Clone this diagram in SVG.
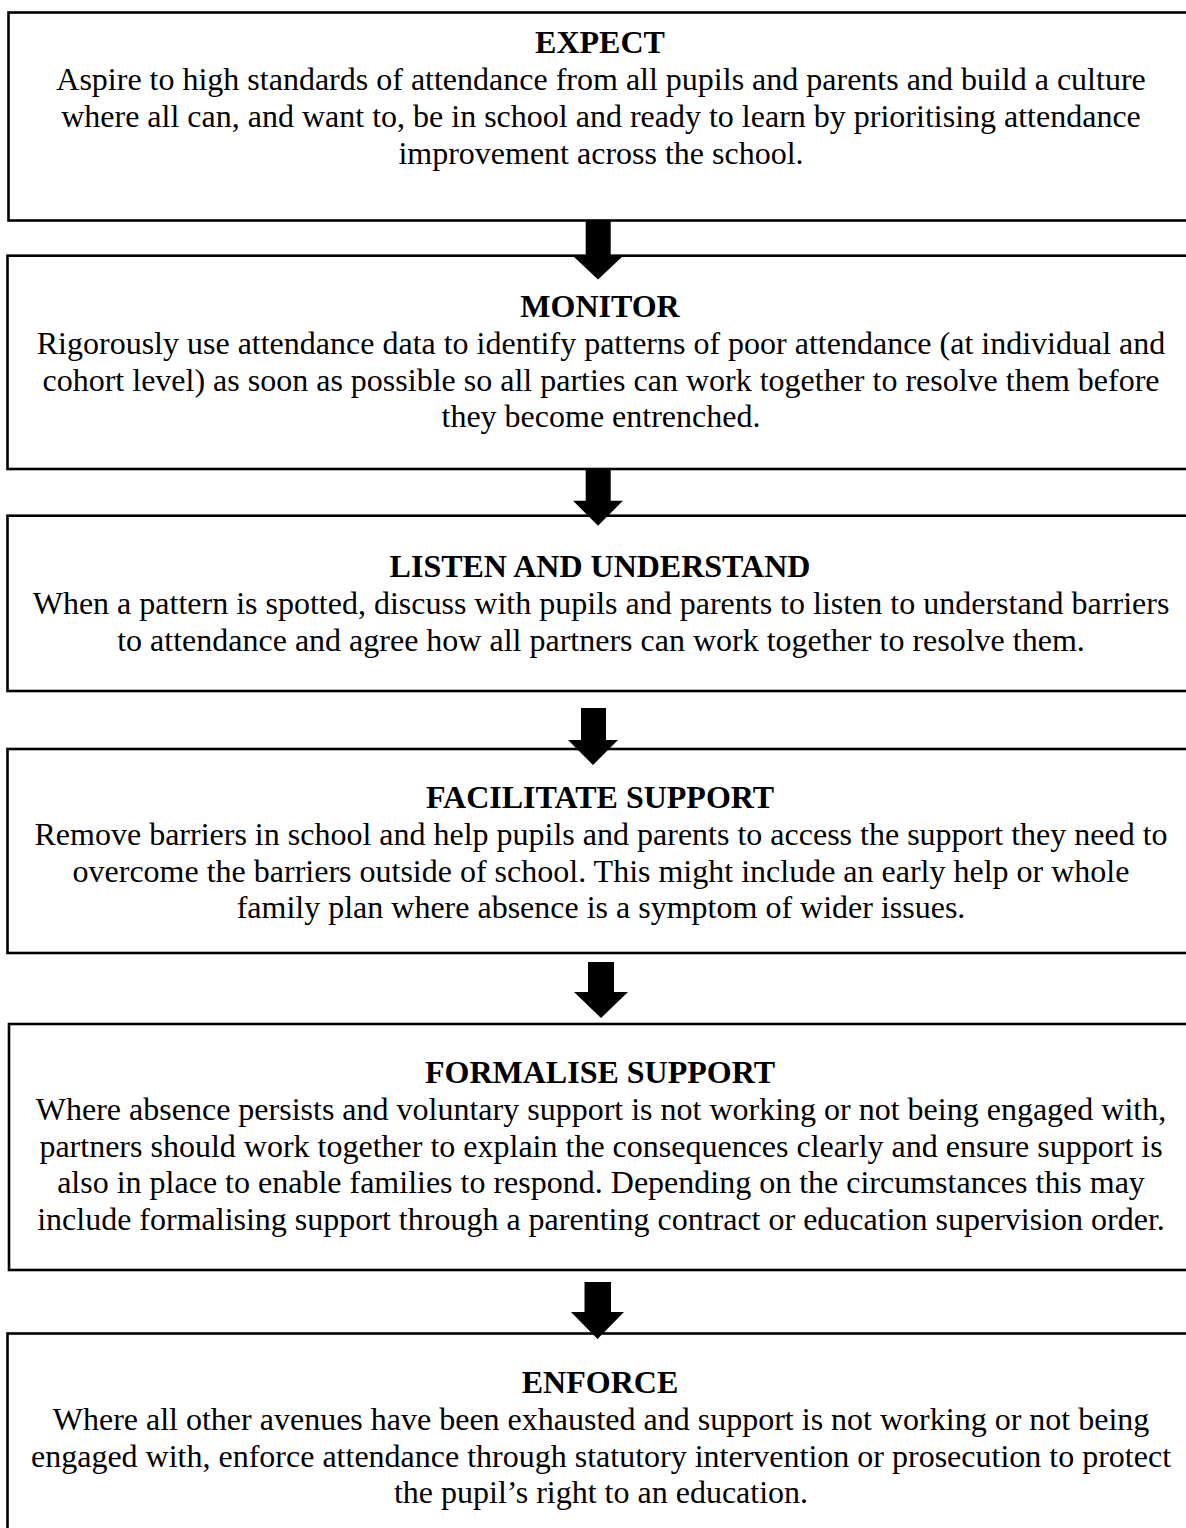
<svg xmlns="http://www.w3.org/2000/svg" width="1186" height="1528" viewBox="0 0 1186 1528">
<style>
.box{fill:#fff;stroke:#000;stroke-width:2.6}
.h{font-family:"Liberation Serif","Times New Roman",serif;font-size:32px;font-weight:bold;text-anchor:middle;fill:#000}
.t{font-family:"Liberation Serif","Times New Roman",serif;font-size:32px;text-anchor:middle;fill:#000}
.arr{fill:#000}
</style>
<rect width="1186" height="1528" fill="#fff"/>
<g id="expect">
<rect class="box" x="8.5" y="12.5" width="1185" height="208"/>
<text class="h" x="600" y="53">EXPECT</text>
<text class="t" x="601" y="90">Aspire to high standards of attendance from all pupils and parents and build a culture</text>
<text class="t" x="601" y="126.8">where all can, and want to, be in school and ready to learn by prioritising attendance</text>
<text class="t" x="601" y="163.6">improvement across the school.</text>
</g>
<g id="monitor">
<rect class="box" x="7.5" y="255.7" width="1186" height="213.3"/>
<text class="h" x="600" y="317">MONITOR</text>
<text class="t" x="601" y="353.8">Rigorously use attendance data to identify patterns of poor attendance (at individual and</text>
<text class="t" x="601" y="390.6">cohort level) as soon as possible so all parties can work together to resolve them before</text>
<text class="t" x="601" y="427.4">they become entrenched.</text>
</g>
<g id="listen">
<rect class="box" x="7.5" y="515.7" width="1186" height="175.3"/>
<text class="h" x="600" y="577">LISTEN AND UNDERSTAND</text>
<text class="t" x="601" y="613.8">When a pattern is spotted, discuss with pupils and parents to listen to understand barriers</text>
<text class="t" x="601" y="650.6">to attendance and agree how all partners can work together to resolve them.</text>
</g>
<g id="facilitate">
<rect class="box" x="7.5" y="749" width="1186" height="204"/>
<text class="h" x="600" y="808">FACILITATE SUPPORT</text>
<text class="t" x="601" y="844.8">Remove barriers in school and help pupils and parents to access the support they need to</text>
<text class="t" x="601" y="881.6">overcome the barriers outside of school. This might include an early help or whole</text>
<text class="t" x="601" y="918.4">family plan where absence is a symptom of wider issues.</text>
</g>
<g id="formalise">
<rect class="box" x="9" y="1024" width="1185" height="246"/>
<text class="h" x="600" y="1083">FORMALISE SUPPORT</text>
<text class="t" x="601" y="1119.8">Where absence persists and voluntary support is not working or not being engaged with,</text>
<text class="t" x="601" y="1156.6">partners should work together to explain the consequences clearly and ensure support is</text>
<text class="t" x="601" y="1193.4">also in place to enable families to respond. Depending on the circumstances this may</text>
<text class="t" x="601" y="1230.2">include formalising support through a parenting contract or education supervision order.</text>
</g>
<g id="enforce">
<rect class="box" x="7.5" y="1333.5" width="1186" height="205"/>
<text class="h" x="600" y="1393">ENFORCE</text>
<text class="t" x="601" y="1429.8">Where all other avenues have been exhausted and support is not working or not being</text>
<text class="t" x="601" y="1466.6">engaged with, enforce attendance through statutory intervention or prosecution to protect</text>
<text class="t" x="601" y="1503.4">the pupil’s right to an education.</text>
</g>
<g id="connectors">
<polygon class="arr" points="585.7,220.7 610.7,220.7 610.7,256 623,256 598,279.5 573,256 585.7,256"/>
<polygon class="arr" points="585.7,468 610.7,468 610.7,500.7 623,500.7 598,525.7 573,500.7 585.7,500.7"/>
<polygon class="arr" points="581,708 606,708 606,740 618,740 593,765 568,740 581,740"/>
<polygon class="arr" points="588,962 614,962 614,992 628,992 601,1018 574,992 588,992"/>
<polygon class="arr" points="584.5,1282 611,1282 611,1312 624,1312 597.5,1339 571,1312 584.5,1312"/>
</g>
</svg>
